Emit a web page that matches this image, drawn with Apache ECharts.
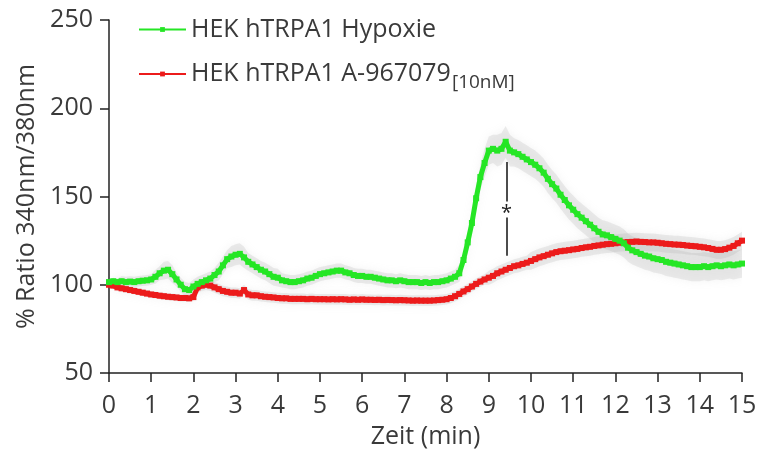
<!DOCTYPE html>
<html>
<head>
<meta charset="utf-8">
<script src="https://cdn.jsdelivr.net/npm/echarts@6/dist/echarts.min.js"></script>
<style>
  html, body { margin: 0; padding: 0; background: #fff; }
  #chart { width: 762px; height: 454px; }
</style>
</head>
<body>
<div id="chart"></div>
<script>
// Fura-2 ratio traces, one sample every 0.1 min from 0 to 15 min
const SAMPLE_STEP = 0.1;

const seriesNames = ['HEK hTRPA1 Hypoxie', 'HEK hTRPA1 A-967079'];
const concentrationLabel = '[10nM]';

const xTicks = [0, 15, 1];     // min, max, interval (min)
const yTicks = [50, 250, 50];  // min, max, interval (%)

const hypoxieMean = [
  101.5, 102, 101.5, 102, 101.5, 101.8, 101.5, 102, 102.3, 102.5,
  103, 104.5, 106.5, 108, 108.5, 106, 103, 100, 97.5, 97,
  99, 100.5, 101.5, 102.5, 103.5, 105.5, 107.5, 111, 114.5, 116,
  117, 117.5, 115.5, 113, 111.5, 110, 108.5, 107.5, 106, 104.5,
  104, 102.5, 102, 101.5, 101.5, 102, 102.5, 103.5, 104, 105,
  106, 106.5, 107, 107.5, 108, 108, 107, 106.5, 105.5, 105,
  105, 104.5, 104.5, 104, 103.5, 103, 102.5, 102.5, 102, 102.5,
  102, 101.5, 101.5, 101.5, 101, 101.5, 101, 101.5, 101.5, 102,
  102.5, 103.5, 104.5, 106.5, 114, 124, 135, 149, 161, 169,
  176, 177, 176, 177, 181, 176, 175, 174, 172.5, 171,
  169.5, 168, 166, 163.5, 160, 157, 154.5, 151, 148, 145,
  142.5, 140, 138, 136, 134, 132, 130, 128.5, 128, 127,
  126, 125, 123.5, 121, 119.5, 118.5, 117.5, 116.5, 116, 115,
  114.5, 114, 113, 112.5, 112, 111.5, 111, 110.5, 110, 110,
  110, 110.5, 110, 110.5, 111, 110.5, 111, 111.5, 111, 111.5,
  112
];

const hypoxieSem = [
  1, 2, 2, 3, 3, 3, 3, 3, 3, 3,
  3, 4, 4, 5, 5, 5, 4, 4, 4, 4,
  4, 4, 4, 4, 4, 4, 5, 5, 5, 6,
  6, 6, 6, 5, 5, 5, 5, 5, 5, 5,
  5, 4, 4, 4, 4, 4, 4, 4, 4, 4,
  4, 4, 4, 4, 4, 4, 4, 4, 4, 4,
  4, 4, 4, 4, 4, 4, 4, 4, 4, 4,
  4, 4, 4, 4, 4, 4, 4, 4, 4, 4,
  4, 4, 4, 5, 5, 6, 6, 7, 7, 8,
  8, 8, 9, 9, 9, 9, 8, 8, 8, 8,
  8, 8, 8, 8, 8, 8, 8, 8, 8, 8,
  8, 8, 8, 8, 8, 8, 8, 8, 8, 8,
  8, 8, 8, 8, 8, 8, 8, 8, 8, 8,
  8, 8, 8, 8, 8, 8, 8, 8, 8, 8,
  8, 8, 8, 8, 8, 8, 8, 8, 8, 8,
  8
];

const antagonistMean = [
  100, 99.5, 98.5, 98, 97.5, 97, 96.5, 96, 95.5, 95,
  94.5, 94.2, 93.8, 93.5, 93.2, 93, 92.8, 92.5, 92.5, 92.3,
  93, 98.5, 99.5, 100, 99.5, 98.5, 97.5, 96.5, 96, 95.5,
  95.5, 95, 97, 94.5, 94, 94, 93.5, 93.2, 93, 92.8,
  92.5, 92.3, 92.3, 92, 92, 92, 92, 91.8, 92, 91.8,
  91.8, 91.8, 91.7, 91.8, 91.7, 91.8, 91.7, 91.5, 91.7, 91.5,
  91.7, 91.5, 91.5, 91.4, 91.5, 91.3, 91.4, 91.3, 91.2, 91.3,
  91.2, 91.1, 91, 91.1, 91, 91, 91, 91.1, 91.3, 91.5,
  91.8, 92.5, 93.5, 94.8, 96.2, 97.5, 99, 100.5, 101.8, 103,
  104, 105, 106.5, 107.5, 108.5, 109.5, 110.5, 111, 111.8, 112.5,
  113.5, 114.5, 115.5, 116.2, 117, 117.8, 118.5, 119, 119.3, 119.6,
  120, 120.3, 120.8, 121.2, 121.5, 122, 122.3, 122.7, 123, 123.2,
  123.5, 123.8, 124, 124.2, 124.3, 124.5, 124.3, 124.2, 124, 124,
  123.8, 123.5, 123.2, 123, 122.8, 122.7, 122.5, 122.2, 122, 121.8,
  121.5, 121.2, 120.8, 120.3, 119.8, 119.8, 120.2, 121, 122, 123.5,
  125
];

const antagonistSem = [
  1, 1, 2, 2, 2, 2, 2, 2, 2, 2,
  2, 2, 2, 2, 2, 2, 2, 2, 2, 2,
  2, 3, 3, 3, 3, 3, 3, 3, 3, 3,
  3, 3, 3, 3, 3, 3, 3, 3, 3, 3,
  3, 3, 3, 3, 3, 3, 3, 3, 3, 3,
  3, 3, 3, 3, 3, 3, 3, 3, 3, 3,
  3, 3, 3, 3, 3, 3, 3, 3, 3, 3,
  3, 3, 3, 3, 3, 3, 3, 3, 3, 3,
  3, 3, 3, 3, 3, 3, 3, 3, 3, 3,
  4, 4, 4, 4, 4, 4, 4, 4, 4, 4,
  5, 5, 5, 5, 5, 5, 5, 5, 5, 5,
  5, 5, 5, 5, 5, 5, 5, 5, 5, 5,
  5, 5, 5, 5, 5, 5, 5, 5, 5, 5,
  5, 5, 5, 5, 5, 5, 5, 5, 5, 5,
  5, 5, 5, 5, 5, 5, 5, 5, 5, 5,
  5
];

// significance bracket between the two traces at the hypoxia peak
const sigTime = 9.42;
const sigLow = 116.5;
const sigHigh = 169.5;
const sigStar = 142.6;

const GREEN = '#25e625';
const RED = '#ec1b1b';
const TEXT = '#3a3a3a';
const FONT = '"Open Sans", "Noto Sans", sans-serif';
const FS = 25;

const times = hypoxieMean.map((_, i) => +(i * SAMPLE_STEP).toFixed(1));
const pairs = (arr) => arr.map((v, i) => [times[i], v]);

// mean ± SEM envelope drawn as one soft grey polygon
function bandSeries(id, mean, sem) {
  return {
    id: id, type: 'custom', silent: true, z: 1, clip: true,
    data: [[0]],
    renderItem: (params, api) => {
      const upper = mean.map((m, i) => api.coord([times[i], m + sem[i]]));
      const lower = mean.map((m, i) => api.coord([times[i], m - sem[i]])).reverse();
      return {
        type: 'polygon',
        shape: { points: upper.concat(lower) },
        style: {
          fill: 'rgba(175,175,175,0.22)',
          shadowBlur: 8, shadowColor: 'rgba(170,170,170,0.6)'
        }
      };
    }
  };
}

const chart = echarts.init(document.getElementById('chart'), null, { renderer: 'canvas' });

chart.setOption({
  animation: false,
  backgroundColor: '#fff',
  grid: { left: 109, right: 20, top: 20, bottom: 79 },
  legend: {
    data: seriesNames,
    orient: 'vertical',
    left: 133, top: 12,
    itemGap: 14,
    itemWidth: 47, itemHeight: 6,
    lineStyle: { width: 2 },
    textStyle: {
      fontFamily: FONT, fontSize: FS, color: TEXT,
      rich: {
        main: { fontFamily: FONT, fontSize: FS, color: TEXT, lineHeight: 31 },
        sub: { fontFamily: FONT, fontSize: 19, color: TEXT, lineHeight: 31, padding: [17, 0, 0, 1] }
      }
    },
    formatter: (name) => name === seriesNames[1]
      ? '{main|' + name + '}{sub|' + concentrationLabel + '}'
      : '{main|' + name + '}'
  },
  xAxis: {
    type: 'value',
    min: xTicks[0], max: xTicks[1], interval: xTicks[2],
    name: 'Zeit (min)',
    nameLocation: 'middle', nameGap: 51,
    nameTextStyle: { fontFamily: FONT, fontSize: FS, color: TEXT },
    axisLine: { onZero: false, lineStyle: { color: '#222', width: 1.5 } },
    axisTick: { inside: false, length: 9, lineStyle: { color: '#222', width: 1.5 } },
    axisLabel: { fontFamily: FONT, fontSize: FS, color: TEXT, margin: 20 },
    splitLine: { show: false }
  },
  yAxis: {
    type: 'value',
    min: yTicks[0], max: yTicks[1], interval: yTicks[2],
    name: '% Ratio 340nm/380nm',
    nameLocation: 'middle', nameGap: 70, nameRotate: 90,
    nameTextStyle: { fontFamily: FONT, fontSize: FS, color: TEXT },
    axisLine: { show: true, lineStyle: { color: '#222', width: 1.5 } },
    axisTick: { show: true, inside: false, length: 9, lineStyle: { color: '#222', width: 1.5 } },
    axisLabel: { fontFamily: FONT, fontSize: FS, color: TEXT, margin: 16 },
    splitLine: { show: false }
  },
  series: [
    bandSeries('hyp-band', hypoxieMean, hypoxieSem),
    bandSeries('ant-band', antagonistMean, antagonistSem),
    {
      name: seriesNames[1], type: 'line', data: pairs(antagonistMean),
      symbol: 'rect', symbolSize: 6, showSymbol: true,
      color: RED, lineStyle: { color: RED, width: 5 }, itemStyle: { color: RED },
      z: 3
    },
    {
      name: seriesNames[0], type: 'line', data: pairs(hypoxieMean),
      symbol: 'rect', symbolSize: 6, showSymbol: true,
      color: GREEN, lineStyle: { color: GREEN, width: 5 }, itemStyle: { color: GREEN },
      z: 4,
      markLine: {
        silent: true, symbol: 'none',
        lineStyle: { color: '#111', width: 1.5, type: 'solid' },
        label: { show: false },
        data: [
          [{ coord: [sigTime, sigLow] }, { coord: [sigTime, sigStar - 4.5] }],
          [{ coord: [sigTime, sigStar + 4.5] }, { coord: [sigTime, sigHigh] }]
        ]
      },
      markPoint: {
        silent: true, symbol: 'circle', symbolSize: 0,
        label: { show: true, formatter: '*', fontFamily: FONT, fontSize: 20, color: '#222', offset: [0, 4] },
        data: [{ coord: [sigTime, sigStar] }]
      }
    }
  ]
});
</script>
</body>
</html>
